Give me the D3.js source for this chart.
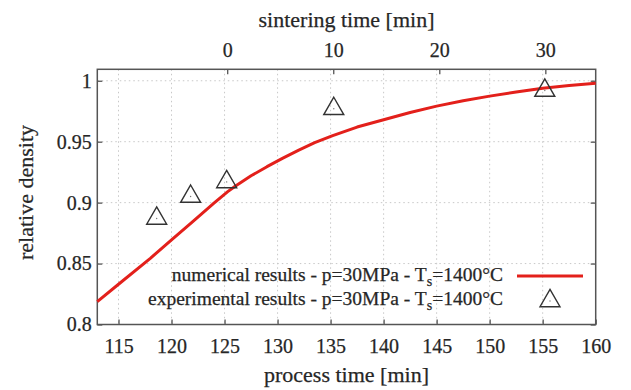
<!DOCTYPE html>
<html>
<head>
<meta charset="utf-8">
<script src="https://cdn.jsdelivr.net/npm/d3@7"></script>
<style>
  html, body { margin: 0; padding: 0; background: #fff; }
  svg { display: block; }
  svg text { font-family: "Liberation Serif", "Times New Roman", Times, serif; fill: #262626; stroke: #262626; stroke-width: 0.25; }
  .tick text { font-size: 20px; }
  .axis-title { font-size: 22px; }
  .legend text { font-size: 19.5px; }
  .grid line { stroke: #c8c8c8; stroke-width: 1; stroke-dasharray: 1.5,3; }
</style>
</head>
<body>
<svg id="chart" width="631" height="390"></svg>
<script>
// process time [min] vs relative density, numerical curve
const simTime    = [113, 115, 118, 120, 122, 124, 125.3, 126, 127.5, 129, 130.5, 132, 133.5, 135.2, 137.5, 140, 142.5, 145, 147.5, 150, 152.5, 155, 157.5, 160];
const simDensity = [0.8187, 0.833, 0.8543, 0.8695, 0.8845, 0.8995, 0.909, 0.9135, 0.922, 0.9295, 0.9365, 0.9431, 0.9492, 0.955, 0.962, 0.968, 0.974, 0.9792, 0.9836, 0.9874, 0.9908, 0.9938, 0.9961, 0.998];

// experimental points
const expTime    = [118.6, 121.8, 125.2, 135.3, 155.2];
const expDensity = [0.887, 0.905, 0.917, 0.977, 0.992];

const xTicks  = [115, 120, 125, 130, 135, 140, 145, 150, 155, 160];
const x2Ticks = [0, 10, 20, 30];
const yTicks  = [0.8, 0.85, 0.9, 0.95, 1];

const SINTER_START = 125.25; // process time where sintering time = 0
const X_MIN = 113, X_MAX = 160;
const Y_MIN = 0.8, Y_MAX = 1.0094;

const labelNum = 'numerical results - p=30MPa - T';
const labelExp = 'experimental results - p=30MPa - T';
const labelTail = '=1400°C';

const SERIF = '"Liberation Serif", "Times New Roman", Times, serif';
const L = 97.3, R = 595.7, T = 69.3, B = 324.5;
const TICK = 5;

const svg = d3.select('#chart');

const x  = d3.scaleLinear().domain([X_MIN, X_MAX]).range([L, R]);
const x2 = d3.scaleLinear().domain([X_MIN - SINTER_START, X_MAX - SINTER_START]).range([L, R]);
const y  = d3.scaleLinear().domain([Y_MIN, Y_MAX]).range([B, T]);

// grid
const grid = svg.append('g').attr('class', 'grid');
grid.selectAll('.gx')
  .data(xTicks.filter(d => d < X_MAX))
  .join('line')
  .attr('x1', d => x(d)).attr('x2', d => x(d))
  .attr('y1', T).attr('y2', B);
grid.selectAll('.gy')
  .data(yTicks.filter(d => d > Y_MIN))
  .join('line')
  .attr('x1', L).attr('x2', R)
  .attr('y1', d => y(d)).attr('y2', d => y(d));

// axes (ticks point inward)
const axBottom = svg.append('g')
  .attr('transform', `translate(0,${B})`)
  .call(d3.axisBottom(x).tickValues(xTicks).tickSizeInner(-TICK).tickSizeOuter(0).tickPadding(14.2));
const axTop = svg.append('g')
  .attr('transform', `translate(0,${T})`)
  .call(d3.axisTop(x2).tickValues(x2Ticks).tickSizeInner(-TICK).tickSizeOuter(0).tickPadding(12.6));
const axLeft = svg.append('g')
  .attr('transform', `translate(${L},0)`)
  .call(d3.axisLeft(y).tickValues(yTicks).tickFormat(d3.format('')).tickSizeInner(-TICK).tickSizeOuter(0).tickPadding(5.5));
const axRight = svg.append('g')
  .attr('transform', `translate(${R},0)`)
  .call(d3.axisRight(y).tickValues(yTicks).tickFormat('').tickSizeInner(-TICK).tickSizeOuter(0));

[axBottom, axTop, axLeft, axRight].forEach(a => {
  a.select('.domain').remove();
  a.attr('font-family', SERIF).attr('font-size', null);
  a.selectAll('.tick line').attr('stroke', '#555').attr('stroke-width', 1.3);
  a.selectAll('.tick text').attr('font-family', SERIF).attr('fill', null);
});

// frame
svg.append('rect')
  .attr('x', L).attr('y', T)
  .attr('width', R - L).attr('height', B - T)
  .attr('fill', 'none')
  .attr('stroke', '#555')
  .attr('stroke-width', 1.5);

// numerical curve
const simData = simTime.map((t, i) => [t, simDensity[i]]);
const line = d3.line().x(d => x(d[0])).y(d => y(d[1]));
svg.append('path')
  .datum(simData)
  .attr('d', line)
  .attr('fill', 'none')
  .attr('stroke', '#e3201b')
  .attr('stroke-width', 3)
  .attr('stroke-linejoin', 'round');

// experimental points
const tri = d3.symbol(d3.symbolTriangle, 173);
const expData = expTime.map((t, i) => [t, expDensity[i]]);
const pts = svg.append('g').selectAll('g')
  .data(expData)
  .join('g')
  .attr('transform', d => `translate(${x(d[0])},${y(d[1])})`);
pts.append('path')
  .attr('d', tri)
  .attr('fill', 'none')
  .attr('stroke', '#333')
  .attr('stroke-width', 1.4);
pts.append('circle').attr('r', 0.7).attr('fill', '#777');

// axis titles
svg.append('text').attr('class', 'axis-title')
  .attr('x', (L + R) / 2).attr('y', 27)
  .attr('text-anchor', 'middle')
  .text('sintering time [min]');
svg.append('text').attr('class', 'axis-title')
  .attr('x', (L + R) / 2).attr('y', 382)
  .attr('text-anchor', 'middle')
  .text('process time [min]');
svg.append('text').attr('class', 'axis-title')
  .attr('transform', 'translate(33,192.5) rotate(-90)')
  .attr('text-anchor', 'middle')
  .text('relative density');

// legend
const legend = svg.append('g').attr('class', 'legend');
function legendLabel(yPos, head) {
  const t = legend.append('text')
    .attr('x', 503).attr('y', yPos)
    .attr('text-anchor', 'end');
  t.append('tspan').text(head);
  t.append('tspan').attr('dy', 5).attr('font-size', '14px').text('s');
  t.append('tspan').attr('dy', -5).text(labelTail);
}
legendLabel(281, labelNum);
legendLabel(305, labelExp);
legend.append('line')
  .attr('x1', 517).attr('x2', 583)
  .attr('y1', 276).attr('y2', 276)
  .attr('stroke', '#e3201b')
  .attr('stroke-width', 3);
legend.append('path')
  .attr('transform', 'translate(550,301)')
  .attr('d', tri)
  .attr('fill', 'none')
  .attr('stroke', '#333')
  .attr('stroke-width', 1.4);
legend.append('circle').attr('cx', 550).attr('cy', 301).attr('r', 0.7).attr('fill', '#777');
</script>
</body>
</html>
